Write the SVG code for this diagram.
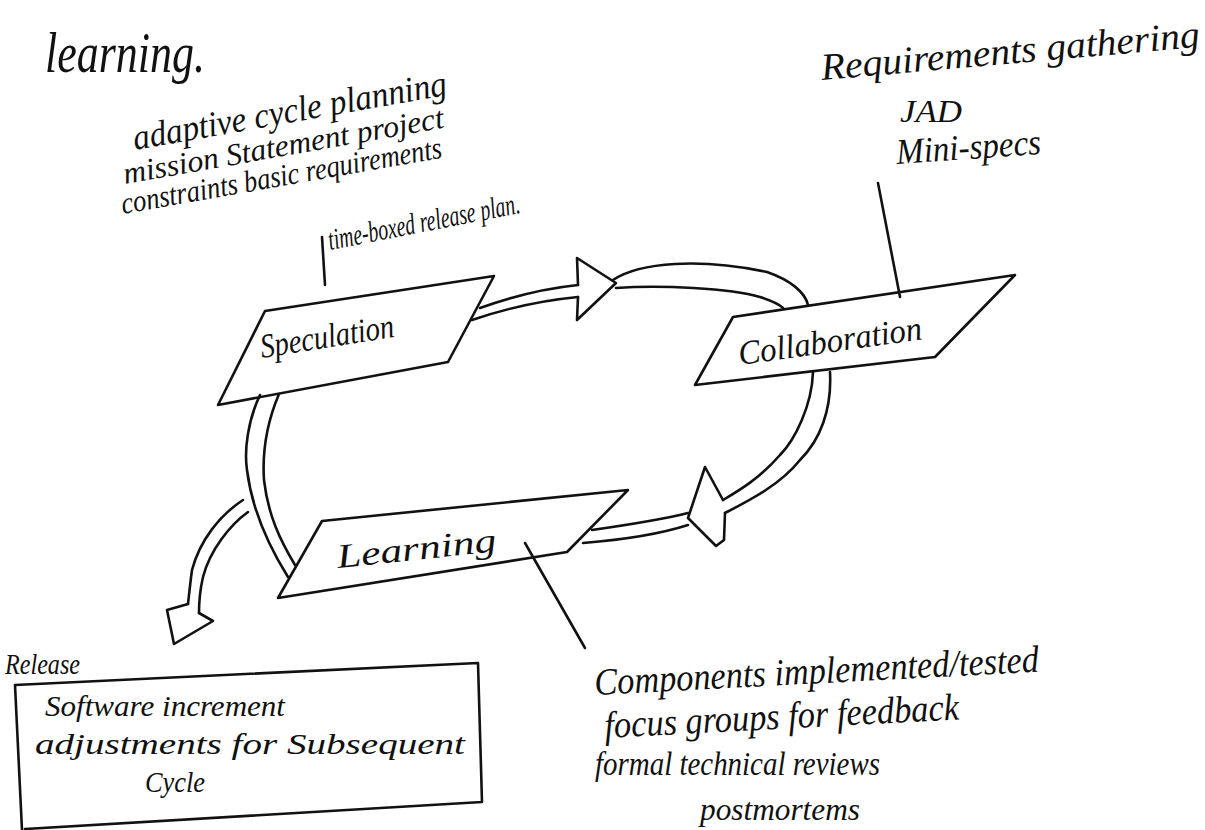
<svg xmlns="http://www.w3.org/2000/svg" width="1205" height="830" viewBox="0 0 1205 830">
<style>
.s{fill:none;stroke:#111;stroke-width:2.6;stroke-linecap:round;stroke-linejoin:round}
.t{font-family:"Liberation Serif",serif;font-style:italic;fill:#111}
</style>
<rect width="1205" height="830" fill="#fff"/>
<g id="title"><text class="t" x="45" y="72" font-size="58" textLength="160" lengthAdjust="spacingAndGlyphs">learning.</text></g>
<g id="speculation-notes">
<text class="t" font-size="36" transform="translate(135,150) rotate(-10)" textLength="318" lengthAdjust="spacingAndGlyphs">adaptive cycle planning</text>
<text class="t" font-size="31" transform="translate(125,184) rotate(-10)" textLength="325" lengthAdjust="spacingAndGlyphs">mission Statement project</text>
<text class="t" font-size="31" transform="translate(123,214) rotate(-10)" textLength="325" lengthAdjust="spacingAndGlyphs">constraints basic requirements</text>
<text class="t" font-size="30" transform="translate(330,250) rotate(-11)" textLength="195" lengthAdjust="spacingAndGlyphs">time-boxed release plan.</text>
</g>
<g id="collaboration-notes">
<text class="t" font-size="38" transform="translate(822,80) rotate(-5)" textLength="380" lengthAdjust="spacingAndGlyphs">Requirements gathering</text>
<text class="t" font-size="32" x="900" y="122" textLength="62" lengthAdjust="spacingAndGlyphs">JAD</text>
<text class="t" font-size="36" transform="translate(897,164) rotate(-4)" textLength="145" lengthAdjust="spacingAndGlyphs">Mini-specs</text>
</g>
<g id="speculation"><path class="s" d="M265,311 L494,276 L448,362 L218,405 Z"/>
<text class="t" font-size="34" transform="translate(262,358) rotate(-9)" textLength="135" lengthAdjust="spacingAndGlyphs">Speculation</text></g>
<g id="collaboration"><path class="s" d="M733,317 L1015,275 L935,357 L695,385 Z"/>
<text class="t" font-size="34" transform="translate(740,365) rotate(-8)" textLength="185" lengthAdjust="spacingAndGlyphs">Collaboration</text></g>
<g id="learning"><path class="s" d="M322,521 L628,490 L567,552 L278,598 Z"/>
<text class="t" font-size="34" transform="translate(338,568) rotate(-6)" textLength="160" lengthAdjust="spacingAndGlyphs">Learning</text></g>
<g id="release">
<text class="t" font-size="30" x="5" y="674" textLength="75" lengthAdjust="spacingAndGlyphs">Release</text>
<path class="s" d="M15,685 L478,663 L482,802 L25,829 M15,685 L22,830"/>
<text class="t" font-size="30" x="45" y="716" textLength="240" lengthAdjust="spacingAndGlyphs">Software increment</text>
<text class="t" font-size="30" x="35" y="754" textLength="430" lengthAdjust="spacingAndGlyphs">adjustments for Subsequent</text>
<text class="t" font-size="30" x="145" y="792" textLength="60" lengthAdjust="spacingAndGlyphs">Cycle</text>
</g>
<g id="learning-notes">
<text class="t" font-size="38" transform="translate(595,695) rotate(-3)" textLength="445" lengthAdjust="spacingAndGlyphs">Components implemented/tested</text>
<text class="t" font-size="38" transform="translate(605,738) rotate(-3)" textLength="355" lengthAdjust="spacingAndGlyphs">focus groups for feedback</text>
<text class="t" font-size="34" x="595" y="775" textLength="285" lengthAdjust="spacingAndGlyphs">formal technical reviews</text>
<text class="t" font-size="32" x="700" y="820" textLength="160" lengthAdjust="spacingAndGlyphs">postmortems</text>
</g>
<g id="connectors">
<path class="s" d="M322,237 L325,285"/>
<path class="s" d="M878,183 L900,297"/>
<path class="s" d="M525,543 L585,648"/>
<path class="s" d="M480,308 Q530,290 578,285 M472,320 Q525,302 578,297"/>
<path class="s" d="M578,285 L577,258 L616,283 L577,320 L578,297"/>
<path class="s" d="M613,280 C640,262 700,258 767,272 C790,280 805,292 808,305"/>
<path class="s" d="M616,288 C660,285 730,288 760,297 C772,301 780,305 783,308"/>
<path class="s" d="M813,372 C812,405 795,440 780,455 C760,478 740,490 723,500"/>
<path class="s" d="M830,372 C832,410 820,440 800,460 C780,485 750,500 725,513"/>
<path class="s" d="M723,500 L705,467 L688,518 L716,546 L724,540 L725,513"/>
<path class="s" d="M688,513 C660,520 620,526 592,530"/>
<path class="s" d="M688,525 C660,534 620,540 583,543"/>
<path class="s" d="M260,395 C248,420 244,450 247,470 C252,510 268,545 288,577"/>
<path class="s" d="M279,394 C268,420 262,450 264,480 C268,515 280,540 295,565"/>
<path class="s" d="M243,500 C220,515 200,540 192,570 C190,585 189,595 188,604"/>
<path class="s" d="M248,512 C230,525 210,550 203,577 C200,590 199,603 199,613"/>
<path class="s" d="M188,604 L167,610 L174,644 L213,621 L199,613"/>
</g>
</svg>
